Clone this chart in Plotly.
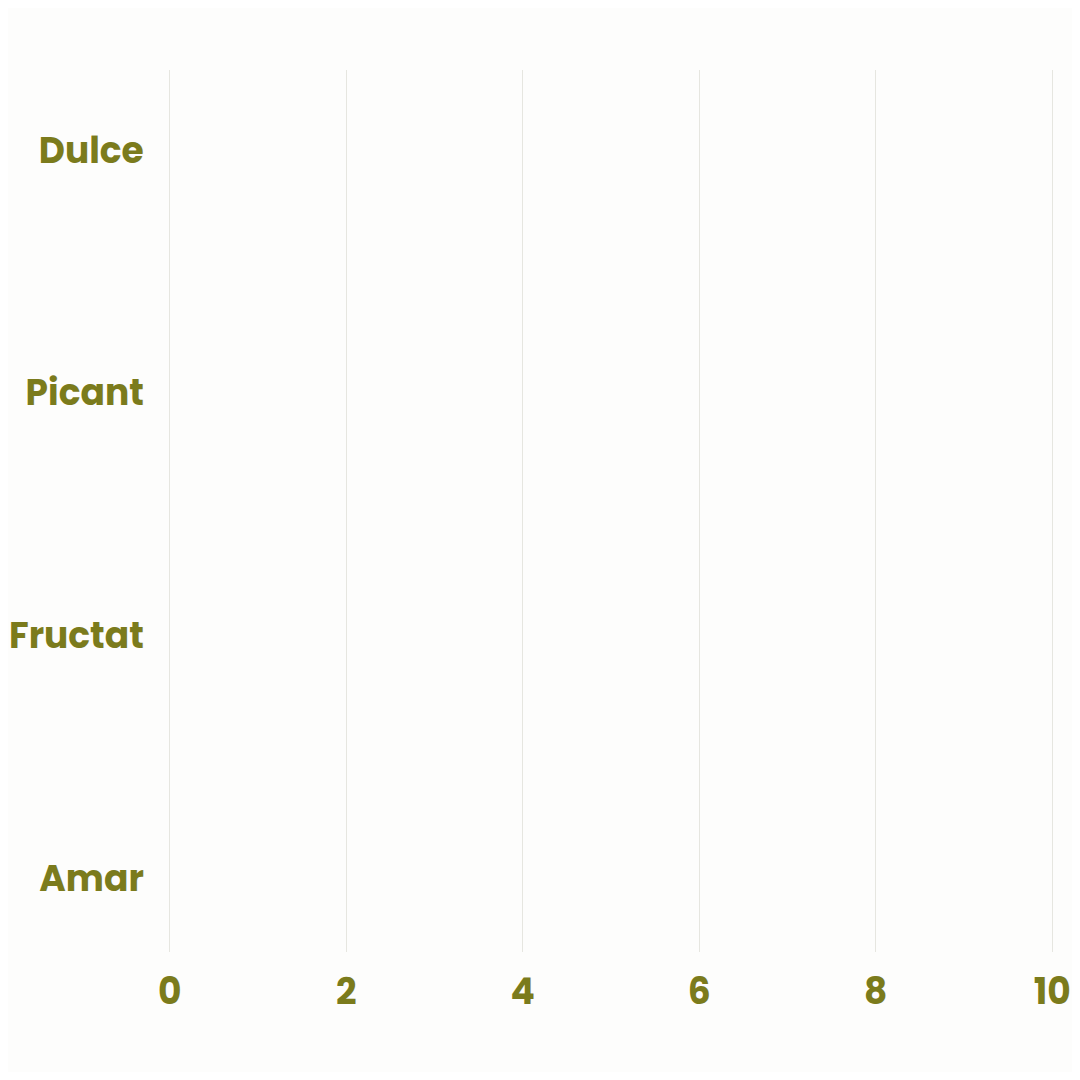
import plotly.graph_objects as go

# categorias de abajo hacia arriba
sabores = ['Amar', 'Fructat', 'Picant', 'Dulce']
valores = [0, 0, 0, 0]
ticks_x = [0, 2, 4, 6, 8, 10]

oliva = '#7b7b1c'
fuente = 'Poppins, "Open Sans", Lato, sans-serif'

fig = go.Figure(go.Bar(
    x=valores,
    y=sabores,
    orientation='h',
    marker_color=oliva,
    marker_line_width=0,
    width=0.6,
))

# la pagina deja 8px de margen, por eso 1064
fig.update_layout(
    width=1064,
    height=1064,
    margin=dict(l=160, r=18, t=62, b=120),
    paper_bgcolor='#fdfdfc',
    plot_bgcolor='#fdfdfc',
    showlegend=False,
    font=dict(family=fuente, color=oliva),
)
fig.update_xaxes(
    range=[-0.02, 10.02],
    tickvals=ticks_x,
    automargin=False,
    showgrid=True,
    gridcolor='#e6e6e0',
    gridwidth=1.2,
    zeroline=False,
    showline=False,
    ticks='outside',
    ticklen=8,
    tickcolor='rgba(0,0,0,0)',
    tickfont=dict(size=36, family=fuente, color=oliva, weight=700),
)
fig.update_yaxes(
    categoryorder='array',
    categoryarray=sabores,
    range=[-0.305, 3.33],
    automargin=False,
    showgrid=False,
    zeroline=False,
    showline=False,
    ticks='outside',
    ticklen=16,
    tickcolor='rgba(0,0,0,0)',
    tickfont=dict(size=36, family=fuente, color=oliva, weight=700),
)

fig.write_html("out.html")
